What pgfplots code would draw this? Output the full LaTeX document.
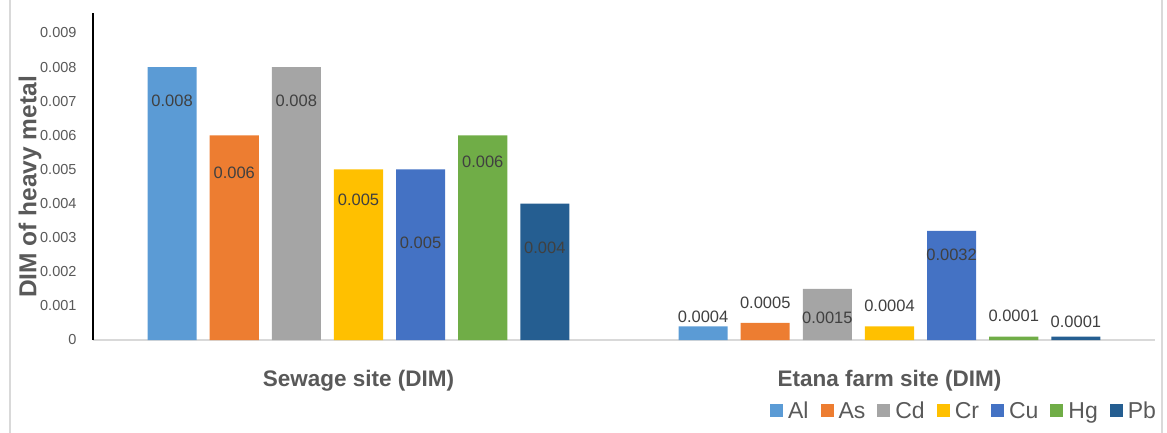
\documentclass[border=0pt]{standalone}
\usepackage{pgfplots}
\pgfplotsset{compat=1.18}
\usepackage{fontspec}
\setmainfont{Liberation Sans}
\definecolor{cAl}{HTML}{5B9BD5}
\definecolor{cAs}{HTML}{ED7D31}
\definecolor{cCd}{HTML}{A5A5A5}
\definecolor{cCr}{HTML}{FFC000}
\definecolor{cCu}{HTML}{4472C4}
\definecolor{cHg}{HTML}{70AD47}
\definecolor{cPb}{HTML}{255E91}
\definecolor{txt}{HTML}{595959}
\definecolor{lbl}{HTML}{404040}
\definecolor{grid}{HTML}{D9D9D9}
\pgfplotstableread{
x y
0 0.008
1 0.0004
}\tAl
\pgfplotstableread{
x y
0 0.006
1 0.0005
}\tAs
\pgfplotstableread{
x y
0 0.008
1 0.0015
}\tCd
\pgfplotstableread{
x y
0 0.005
1 0.0004
}\tCr
\pgfplotstableread{
x y
0 0.005
1 0.0032
}\tCu
\pgfplotstableread{
x y
0 0.006
1 0.0001
}\tHg
\pgfplotstableread{
x y
0 0.004
1 0.0001
}\tPb
% data label positions (x, y of label centre, text)
\pgfplotstableread{
x y t
-0.351 0.00700 0.008
-0.234 0.00491 0.006
-0.117 0.00700 0.008
0.000 0.00412 0.005
0.117 0.00284 0.005
0.234 0.00521 0.006
0.351 0.00269 0.004
0.649 0.00067 0.0004
0.766 0.00108 0.0005
0.883 0.00064 0.0015
1.000 0.00099 0.0004
1.117 0.00249 0.0032
1.234 0.00070 0.0001
1.351 0.00053 0.0001
}\tLab
\begin{document}
\begin{tikzpicture}[x=1pt,y=1pt]
\path[use as bounding box] (0,0) rectangle (1167,-433);
\draw[grid,line width=1.2pt] (10,0) -- (10,-433);
\draw[grid,line width=1.2pt] (1162,0) -- (1162,-433);
\begin{axis}[
  at={(93pt,-340pt)}, anchor=south west,
  scale only axis, width=1062pt, height=327pt,
  xmin=-0.5, xmax=1.5, ymin=0, ymax=0.009586,
  axis x line*=bottom, axis y line*=left,
  x axis line style={grid, line width=1.2pt, -},
  y axis line style={black, line width=1.8pt, -},
  major tick length=0pt,
  xtick={0,1},
  xticklabels={Sewage site (DIM), Etana farm site (DIM)},
  xticklabel style={anchor=center, yshift=-41pt, font=\fontsize{22.5}{26}\selectfont\bfseries, text=txt},
  ytick={0,0.001,0.002,0.003,0.004,0.005,0.006,0.007,0.008,0.009},
  yticklabels={0,0.001,0.002,0.003,0.004,0.005,0.006,0.007,0.008,0.009},
  yticklabel style={anchor=east, xshift=-13pt, font=\fontsize{14.5}{17}\selectfont, text=txt},
  scaled y ticks=false,
  ybar, bar width=0.0923,
  legend columns=-1,
  legend style={at={(1.003,-0.217)}, anchor=east, draw=none, fill=none,
    font=\fontsize{23}{26}\selectfont, text=txt,
    /tikz/every odd column/.append style={column sep=3pt},
    /tikz/every even column/.append style={column sep=10pt},
    nodes={inner xsep=2pt},
    inner sep=0pt},
  legend image code/.code={\fill[#1] (0pt,-6.5pt) rectangle (13pt,6.5pt);},
  clip=false,
]
\addplot[fill=cAl, draw=none, bar shift=-0.351] table {\tAl};
\addplot[fill=cAs, draw=none, bar shift=-0.234] table {\tAs};
\addplot[fill=cCd, draw=none, bar shift=-0.117] table {\tCd};
\addplot[fill=cCr, draw=none, bar shift=0] table {\tCr};
\addplot[fill=cCu, draw=none, bar shift=0.117] table {\tCu};
\addplot[fill=cHg, draw=none, bar shift=0.234] table {\tHg};
\addplot[fill=cPb, draw=none, bar shift=0.351] table {\tPb};
\legend{Al,As,Cd,Cr,Cu,Hg,Pb}
\addplot[forget plot, draw=none, mark=none, sharp plot, bar shift=0,
  nodes near coords, point meta=explicit symbolic,
  every node near coord/.append style={anchor=center, text=lbl, font=\fontsize{16.5}{19}\selectfont, inner sep=0pt}]
  table[meta=t] {\tLab};
\end{axis}
\node[rotate=90, text=txt, font=\fontsize{24.5}{28}\selectfont\bfseries] at (30,-187) {DIM of heavy metal};
\end{tikzpicture}
\end{document}
